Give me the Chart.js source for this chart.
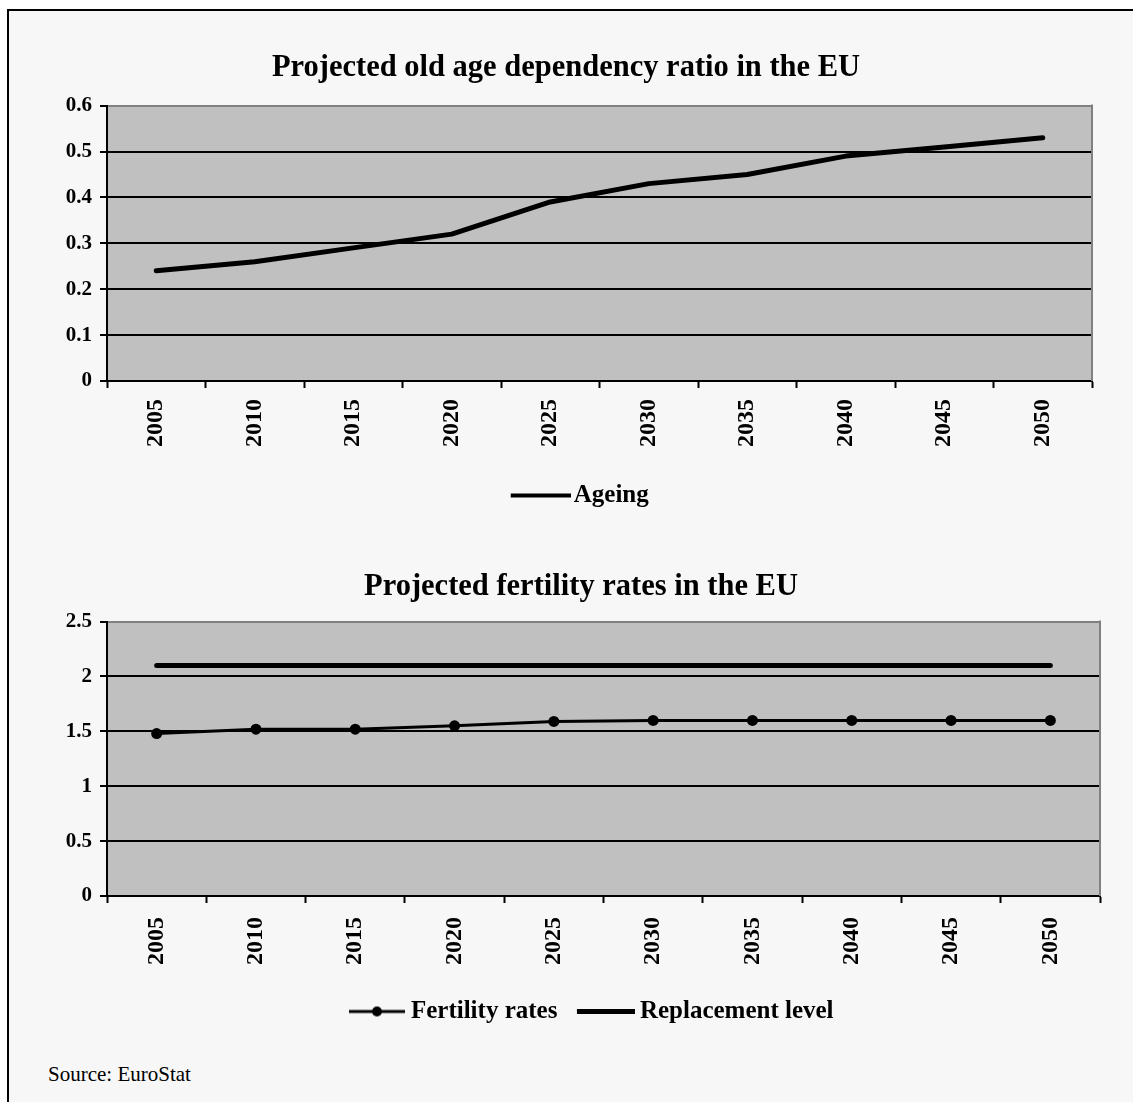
<!DOCTYPE html>
<html><head><meta charset="utf-8">
<script src="https://cdn.jsdelivr.net/npm/chart.js@4.4.1/dist/chart.umd.min.js"></script>
<style>
html,body{margin:0;padding:0;background:#fff;overflow:hidden;width:1133px;height:1102px;}
#frame{position:absolute;left:7px;top:9px;width:1200px;height:1200px;border-left:2px solid #000;border-top:2px solid #000;background:#f7f7f7;}
canvas{position:absolute;}
#c1{left:0;top:12px;}
#c2{left:0;top:530px;}
#source{position:absolute;left:48px;top:1064px;font:21px/21px "Liberation Serif",serif;color:#000;}
</style></head><body>
<div id="frame"></div>
<canvas id="c1" width="1133" height="506"></canvas>
<canvas id="c2" width="1133" height="504"></canvas>
<div id="source">Source: EuroStat</div>
<script>
// ---- data ----
const years = ['2005','2010','2015','2020','2025','2030','2035','2040','2045','2050'];
const ageingRatio = [0.24, 0.26, 0.29, 0.32, 0.39, 0.43, 0.45, 0.49, 0.51, 0.53];
const fertilityRates = [1.48, 1.52, 1.52, 1.55, 1.59, 1.60, 1.60, 1.60, 1.60, 1.60];
const replacementLevel = [2.1, 2.1, 2.1, 2.1, 2.1, 2.1, 2.1, 2.1, 2.1, 2.1];
const ageingTickLabels = ['0','0.1','0.2','0.3','0.4','0.5','0.6'];
const fertilityTickLabels = ['0','0.5','1','1.5','2','2.5'];
const title1 = 'Projected old age dependency ratio in the EU';
const title2 = 'Projected fertility rates in the EU';

// ---- styling helpers ----
const FONT = '"Liberation Serif", "Times New Roman", serif';
const PLOT_BG = '#c0c0c0';
const FRAME_GREY = '#808080';

// legend symbol: transparent left part, visible line (with optional dot) on the right part
function makeIcon(w, visible, lineW, dotR) {
  const c = document.createElement('canvas');
  const h = Math.max(lineW, dotR * 2) + 2;
  c.width = w; c.height = h;
  const g = c.getContext('2d');
  g.fillStyle = '#000';
  g.fillRect(w - visible, (h - lineW) / 2, visible, lineW);
  if (dotR) { g.beginPath(); g.arc(w - visible / 2, h / 2, dotR, 0, Math.PI * 2); g.fill(); }
  return c;
}

const plotFrame = {
  id: 'plotFrame',
  beforeDraw(chart) {
    const a = chart.chartArea, g = chart.ctx;
    g.save(); g.fillStyle = PLOT_BG; g.fillRect(a.left, a.top, a.right - a.left, a.bottom - a.top); g.restore();
  },
  afterDraw(chart) {
    const a = chart.chartArea, g = chart.ctx;
    g.save(); g.strokeStyle = FRAME_GREY; g.lineWidth = 2;
    g.beginPath(); g.moveTo(a.right, a.top - 1); g.lineTo(a.right, a.bottom); g.stroke(); g.restore();
  }
};

function buildOptions(cfg) {
  return {
    responsive: false, animation: false, devicePixelRatio: 1,
    layout: { padding: { left: cfg.padLeft, right: cfg.padRight, top: 0, bottom: 0 } },
    plugins: {
      tooltip: { enabled: false },
      title: { display: true, text: cfg.title, color: '#000',
        font: { family: FONT, size: 30.5, weight: 'bold' }, padding: { top: cfg.titleTop, bottom: cfg.titleBottom } },
      legend: { position: 'bottom', align: 'center',
        labels: { usePointStyle: true, pointStyleWidth: cfg.boxW, padding: cfg.legendPad, color: '#000',
          font: { family: FONT, size: 25, weight: 'bold' },
          generateLabels: (chart) => chart.data.datasets.map((ds, i) => ({
            text: ds.label, pointStyle: cfg.icons[i], fillStyle: '#000', strokeStyle: '#000',
            lineWidth: 0, hidden: false, datasetIndex: i })) } }
    },
    scales: {
      x: {
        offset: true,
        grid: { offset: true, drawOnChartArea: false, drawTicks: true, tickLength: 7, tickColor: '#000', tickWidth: 2 },
        border: { display: true, color: '#000', width: 2 },
        ticks: { autoSkip: false, minRotation: 90, maxRotation: 90, padding: cfg.xPad, color: '#000',
          font: { family: FONT, size: 24, weight: 'bold' } },
        afterFit: (s) => { s.height = cfg.xHeight; }
      },
      y: {
        min: 0, max: cfg.yMax,
        ticks: { stepSize: cfg.yStep, padding: 8, color: '#000',
          font: { family: FONT, size: 21, weight: 'bold' },
          callback: (v, i) => cfg.tickLabels[i] },
        grid: { lineWidth: 2, tickLength: 7, tickColor: '#000', tickWidth: 2,
          color: (ctx) => (ctx.index === ctx.scale.ticks.length - 1 ? FRAME_GREY : '#000') },
        border: { display: true, color: '#000', width: 2 },
        afterFit: (s) => { s.width = cfg.yWidth; }
      }
    }
  };
}

new Chart(document.getElementById('c1'), {
  type: 'line',
  data: { labels: years, datasets: [
    { label: 'Ageing', data: ageingRatio, borderColor: '#000', borderWidth: 5, pointRadius: 0,
      tension: 0, borderCapStyle: 'round', borderJoinStyle: 'round' }
  ] },
  options: buildOptions({ title: title1, padLeft: 40, padRight: 41, yWidth: 67, titleTop: 38, titleBottom: 19,
    xHeight: 92, xPad: 11, legendPad: 10, boxW: 78, icons: [makeIcon(97, 60, 4, 0)],
    yMax: 0.6, yStep: 0.1, tickLabels: ageingTickLabels }),
  plugins: [plotFrame]
});

new Chart(document.getElementById('c2'), {
  type: 'line',
  data: { labels: years, datasets: [
    { label: 'Fertility rates', data: fertilityRates, borderColor: '#000', borderWidth: 3,
      pointRadius: 5.5, pointBackgroundColor: '#000', pointBorderWidth: 0, tension: 0,
      borderCapStyle: 'round', borderJoinStyle: 'round' },
    { label: 'Replacement level', data: replacementLevel, borderColor: '#000', borderWidth: 5,
      pointRadius: 0, tension: 0, borderCapStyle: 'round' }
  ] },
  options: buildOptions({ title: title2, padLeft: 62, padRight: 33, yWidth: 45, titleTop: 39, titleBottom: 16,
    xHeight: 103, xPad: 14, legendPad: 0, boxW: 70, icons: [makeIcon(83, 56, 3, 5), makeIcon(85, 58, 5, 0)],
    yMax: 2.5, yStep: 0.5, tickLabels: fertilityTickLabels }),
  plugins: [plotFrame]
});
</script>
</body></html>
